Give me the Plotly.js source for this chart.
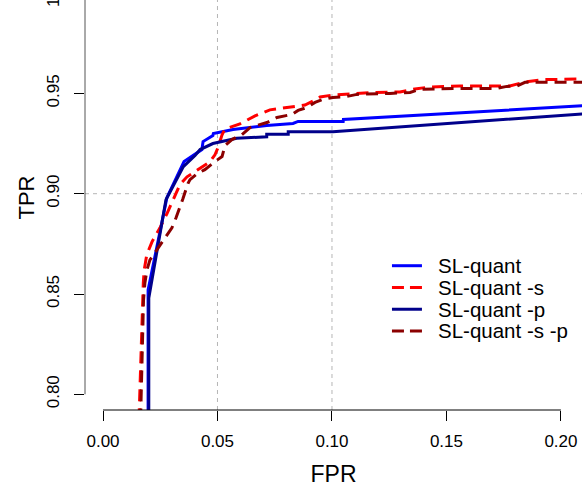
<!DOCTYPE html>
<html>
<head>
<meta charset="utf-8">
<script src="https://cdn.plot.ly/plotly-3.0.1.min.js"></script>
<style>
  html, body { margin: 0; padding: 0; background: #fff; overflow: hidden; }
  #chart { position: absolute; left: 0; top: -20px; width: 586px; height: 507px; }
</style>
</head>
<body>
<div id="chart"></div>
<script>
// ---- data ----
const seriesNames = ["SL-quant", "SL-quant -s", "SL-quant -p", "SL-quant -s -p"];

const fprQuant = [0.0197, 0.0197, 0.0279, 0.0354, 0.0432, 0.0437, 0.0480, 0.0482, 0.0568, 0.0715, 0.0830, 0.0852, 0.1049, 0.1050, 0.2122];
const tprQuant = [0.780, 0.852, 0.898, 0.916, 0.922, 0.926, 0.929, 0.930, 0.932, 0.934, 0.935, 0.936, 0.936, 0.937, 0.944];

const fprQuantS = [0.0157, 0.0159, 0.0162, 0.0166, 0.0169, 0.0176, 0.0180, 0.0191, 0.0214, 0.0249, 0.0279, 0.0306, 0.0336, 0.0367, 0.0424, 0.0467, 0.0489, 0.0502, 0.0520, 0.0533, 0.0598, 0.0664, 0.0729, 0.0817, 0.0882, 0.0926, 0.0948, 0.1004, 0.1057, 0.1166, 0.1297, 0.1362, 0.1428, 0.1559, 0.1777, 0.1843, 0.1930, 0.2109];
const tprQuantS = [0.787, 0.7937, 0.8055, 0.8221, 0.8385, 0.8555, 0.8620, 0.8695, 0.8760, 0.8830, 0.8900, 0.8970, 0.9045, 0.9084, 0.9129, 0.9159, 0.9194, 0.9229, 0.9294, 0.9323, 0.9348, 0.9388, 0.9418, 0.9432, 0.9442, 0.9467, 0.9482, 0.9492, 0.9497, 0.9504, 0.9507, 0.9522, 0.9532, 0.9537, 0.9537, 0.9557, 0.9569, 0.9572];

const fprQuantP = [0.0200, 0.0200, 0.0275, 0.0351, 0.0402, 0.0424, 0.0480, 0.0584, 0.0715, 0.0715, 0.0809, 0.0809, 0.1004, 0.2122];
const tprQuantP = [0.780, 0.848, 0.897, 0.9135, 0.919, 0.922, 0.925, 0.9276, 0.9284, 0.9296, 0.9296, 0.9309, 0.9309, 0.940];

const fprQuantSP = [0.0164, 0.0166, 0.0168, 0.0173, 0.0177, 0.0183, 0.0192, 0.0205, 0.0240, 0.0271, 0.0301, 0.0319, 0.0336, 0.0349, 0.0371, 0.0380, 0.0411, 0.0445, 0.0489, 0.0520, 0.0533, 0.0563, 0.0607, 0.0642, 0.0716, 0.0760, 0.0825, 0.0852, 0.0891, 0.0926, 0.0961, 0.1004, 0.1066, 0.1109, 0.1253, 0.1341, 0.1384, 0.1537, 0.1721, 0.1764, 0.1808, 0.1843, 0.2109];
const tprQuantSP = [0.787, 0.7947, 0.8121, 0.8321, 0.8470, 0.8555, 0.8620, 0.8670, 0.8730, 0.8780, 0.8830, 0.8880, 0.8940, 0.8975, 0.9050, 0.9070, 0.9100, 0.9120, 0.9160, 0.9185, 0.9240, 0.9270, 0.9295, 0.9330, 0.9355, 0.9380, 0.9395, 0.9415, 0.9430, 0.9455, 0.9470, 0.9480, 0.9485, 0.9495, 0.9500, 0.9505, 0.9520, 0.9525, 0.9525, 0.9535, 0.9537, 0.9555, 0.9555];

const xTickVals = [0, 0.05, 0.10, 0.15, 0.20];
const xTickText = ["0.00", "0.05", "0.10", "0.15", "0.20"];
const yTickVals = [0.80, 0.85, 0.90, 0.95, 1.00];
const yTickText = ["0.80", "0.85", "0.90", "0.95", "1.00"];
const xGridVals = [0.05, 0.10];
const yGridVals = [0.90];

// ---- styles ----
const colors = ["#0000FF", "#FF0000", "#00008B", "#8B0000"];
const dashes = ["solid", "12px,7px", "solid", "12px,7px"];
const font = "Liberation Sans, Arial, Helvetica, sans-serif";

const xs = [fprQuant, fprQuantS, fprQuantP, fprQuantSP];
const ys = [tprQuant, tprQuantS, tprQuantP, tprQuantSP];

const traces = seriesNames.map((name, i) => ({
  type: "scatter", mode: "lines", name: name,
  x: xs[i], y: ys[i],
  line: { color: colors[i], width: 3, dash: dashes[i] },
  showlegend: false
}));

const shapes = [];
xGridVals.forEach(v => shapes.push({ type: "line", layer: "below", xref: "x", yref: "paper", x0: v, x1: v, y0: 0, y1: 1, line: { color: "#b5b5b5", width: 1, dash: "4px,4px" } }));
yGridVals.forEach(v => shapes.push({ type: "line", layer: "below", xref: "paper", yref: "y", x0: 0, x1: 1, y0: v, y1: v, line: { color: "#b5b5b5", width: 1, dash: "4px,4px" } }));
// R-style axis lines spanning first to last tick
shapes.push({ type: "line", xref: "x", yref: "paper", x0: xTickVals[0], x1: xTickVals[xTickVals.length - 1], y0: 0, y1: 0, line: { color: "#000", width: 1 } });
shapes.push({ type: "line", xref: "paper", yref: "y", x0: 0, x1: 0, y0: yTickVals[0], y1: yTickVals[yTickVals.length - 1], line: { color: "#555", width: 1 } });

// manual legend (R style, tight rows)
const legX0 = 0.1262, legX1 = 0.1393, legTextX = 0.1454;
const legY = [0.8641, 0.8532, 0.8424, 0.8316];
const annotations = [];
seriesNames.forEach((name, i) => {
  shapes.push({ type: "line", xref: "x", yref: "y", x0: legX0, x1: legX1, y0: legY[i], y1: legY[i], line: { color: colors[i], width: 3, dash: i % 2 ? "12px,6px" : "solid" } });
  annotations.push({ xref: "x", yref: "y", x: legTextX, y: legY[i], text: name, showarrow: false, xanchor: "left", yanchor: "middle", font: { family: font, size: 20.5, color: "#000" } });
});

const layout = {
  width: 586, height: 507,
  margin: { l: 85, r: 4, t: 5, b: 77 },
  paper_bgcolor: "#fff", plot_bgcolor: "#fff",
  font: { family: font, color: "#000" },
  showlegend: false,
  xaxis: {
    range: [-0.00786, 0.2092], tickvals: xTickVals, ticktext: xTickText,
    showgrid: false, zeroline: false, showline: false,
    ticks: "outside", ticklen: 10, tickcolor: "#000", tickwidth: 1,
    ticklabelstandoff: 6,
    tickfont: { family: font, size: 17, color: "#000" },
    title: { text: "FPR", font: { family: font, size: 23, color: "#000" }, standoff: 17 }
  },
  yaxis: {
    range: [0.79217, 1.00404], tickvals: yTickVals, ticktext: yTickText,
    showgrid: false, zeroline: false, showline: false,
    ticks: "outside", ticklen: 10, tickcolor: "#000", tickwidth: 1, tickangle: -90,
    ticklabelstandoff: 8, ticklabeloverflow: "allow",
    tickfont: { family: font, size: 17, color: "#000" },
    title: { text: "TPR", font: { family: font, size: 22, color: "#000" }, standoff: 3 }
  },
  shapes: shapes,
  annotations: annotations
};

Plotly.newPlot("chart", traces, layout, { staticPlot: true, displayModeBar: false });
</script>
</body>
</html>
